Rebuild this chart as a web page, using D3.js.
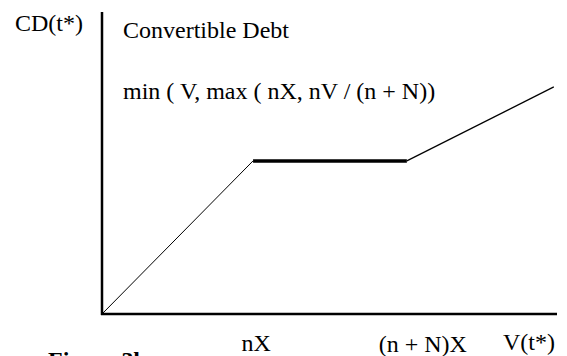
<!DOCTYPE html>
<html>
<head>
<meta charset="UTF-8">
<style>
body { margin:0; background:#fff; }
.axis { stroke:#000; stroke-width:2.5px; }
.seg { fill:none; stroke:#000; }
</style>
</head>
<body>
<svg width="567" height="356"></svg>
<script src="https://cdnjs.cloudflare.com/ajax/libs/d3/7.8.5/d3.min.js"></script>
<script>
// firm value V(t*) and convertible debt payoff CD(t*)
var vValues = [0, 33.2, 67, 99.3];
var cdValues = [0, 50.7, 50.7, 75.2];
var segWidth = [1, 3.5, 1.2];
var tickNames = ["nX", "(n + N)X"];
var tickVals = [33.2, 67];

var svg = d3.select("svg")
    .attr("font-family", "Liberation Serif")
    .attr("font-size", 24);

var x = d3.scaleLinear().domain([0, 100]).range([102, 557]),
    y = d3.scaleLinear().domain([0, 100]).range([314, 12]);

// axes
svg.append("line").attr("class", "axis")
    .attr("x1", x(0)).attr("x2", x(0)).attr("y1", y(0) + 1).attr("y2", y(100));
svg.append("line").attr("class", "axis")
    .attr("x1", x(0) - 1).attr("x2", x(100)).attr("y1", y(0)).attr("y2", y(0));

// payoff, one segment at a time (flat part is drawn heavier)
for (var i = 0; i < vValues.length - 1; i++) {
  svg.append("path").attr("class", "seg")
      .attr("d", d3.line()([[x(vValues[i]), y(cdValues[i])], [x(vValues[i + 1]), y(cdValues[i + 1])]]))
      .attr("stroke-width", segWidth[i]);
}

svg.append("text").attr("x", 15).attr("y", 31).text("CD(t*)");
svg.append("text").attr("x", 123).attr("y", 38).text("Convertible Debt");
svg.append("text").attr("x", 123).attr("y", 99).text("min ( V, max ( nX, nV / (n + N))");

svg.selectAll(".tick").data(tickNames).enter().append("text")
    .attr("class", "tick")
    .attr("x", function(d, i) { return x(tickVals[i]) + (i ? 16 : 3); })
    .attr("y", function(d, i) { return i ? 352 : 351; })
    .attr("text-anchor", "middle")
    .text(function(d) { return d; });

svg.append("text").attr("x", 503).attr("y", 350).text("V(t*)");
svg.append("text").attr("x", 48).attr("y", 368).attr("font-weight", "bold").text("Figure 3b");
</script>
</body>
</html>
